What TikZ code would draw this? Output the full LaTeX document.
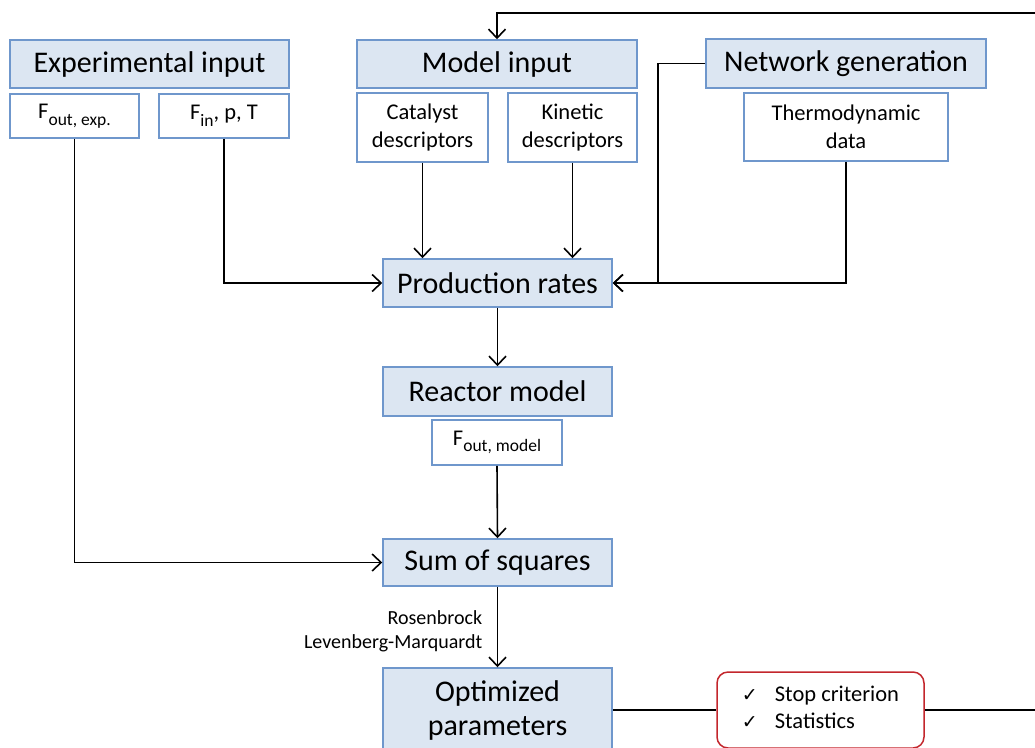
\documentclass[tikz,border=0pt]{standalone}
\usepackage{fontspec}
\setmainfont{Carlito}
\newfontfamily\symfont{DejaVu Sans}
\usetikzlibrary{arrows.meta}
\definecolor{boxfill}{HTML}{DCE6F2}
\definecolor{boxline}{HTML}{6F97CC}
\definecolor{stopline}{HTML}{C3262C}
\tikzset{
  hdr/.style={draw=boxline, fill=boxfill, line width=1.5pt, inner sep=0pt,
    align=center, font=\fontsize{30}{34}\selectfont},
  sub/.style={draw=boxline, fill=white, line width=1.5pt, inner sep=0pt,
    align=center, font=\fontsize{22.5}{28}\selectfont},
  crit/.style={draw=stopline, fill=white, line width=1.5pt, rounded corners=11pt,
    inner sep=0pt, font=\fontsize{22.5}{27}\selectfont},
  link/.style={line width=1.6pt},
  arr/.style={link, -{Straight Barb[length=9pt,width=17pt,line width=1.6pt]}},
  lbl/.style={font=\fontsize{20}{24}\selectfont, align=right, inner sep=0pt}
}
\newcommand{\flowsub}[1]{\raisebox{-0.3em}{\fontsize{17.5}{17.5}\selectfont #1}}
\begin{document}
\begin{tikzpicture}[x=1pt,y=-1pt]
  \useasboundingbox (0,0) rectangle (1035,747);
  \clip (0,0) rectangle (1035,747);

  % input groups
  \node[hdr, minimum width=279pt, minimum height=48pt] (exp) at (149.5,64) {Experimental input};
  \node[sub, minimum width=129pt, minimum height=44pt] (fexp) at (74.5,116) {F\flowsub{out, exp.}};
  \node[sub, minimum width=130pt, minimum height=44pt] (fin) at (224,116) {F\flowsub{in}, p, T};

  \node[hdr, minimum width=280pt, minimum height=48pt] (model) at (497,64) {Model input};
  \node[sub, minimum width=131pt, minimum height=69pt] (cat) at (422.5,127.5) {Catalyst\\descriptors};
  \node[sub, minimum width=129pt, minimum height=69pt] (kin) at (572.5,127.5) {Kinetic\\descriptors};

  \node[hdr, minimum width=280pt, minimum height=49pt] (net) at (846,63.5) {Network generation};
  \node[sub, minimum width=204pt, minimum height=68pt] (thermo) at (846,127) {Thermodynamic\\data};

  % main chain
  \node[hdr, minimum width=229pt, minimum height=48pt] (prod) at (497.5,283) {Production rates};
  \node[hdr, minimum width=229pt, minimum height=49pt] (reactor) at (497.5,391.5) {Reactor model};
  \node[sub, minimum width=130pt, minimum height=45pt] (fmod) at (497,442.5) {F\flowsub{out, model}};
  \node[hdr, minimum width=229pt, minimum height=47pt] (sum) at (497.5,562.5) {Sum of squares};
  \node[hdr, minimum width=229pt, minimum height=84pt] (opt) at (497.5,710) {Optimized\\parameters};

  \node[crit, minimum width=207pt, minimum height=76pt] (stop) at (820.5,710)
    {\begin{tabular}{@{}l@{\hspace{17pt}}l@{}}
       {\symfont\fontsize{19}{27}\selectfont ✓} & Stop criterion\\
       {\symfont\fontsize{19}{27}\selectfont ✓} & Statistics
     \end{tabular}};

  % loose ends at the right border
  \coordinate (loopin) at (1035,13);
  \coordinate (loopout) at (1035,710);

  % connectors
  \draw[arr] (loopin) -| (model.north);
  \draw[arr] (cat.south) -- (cat.south |- prod.north);
  \draw[arr] (kin.south) -- (kin.south |- prod.north);
  \draw[arr] (fin.south) |- (prod.west);
  \draw[arr] (thermo.south) |- (prod.east);
  \draw[arr] (net.west) -- ++(-47,0) |- (prod.east);
  \draw[arr] (prod.south) -- (reactor.north);
  \draw[arr] (fmod.south) -- (sum.north);
  \draw[arr] (fexp.south) |- (sum.west);
  \draw[arr] (sum.south) -- node[lbl, anchor=east, xshift=-14.5pt, yshift=-4pt]
    {Rosenbrock\\Levenberg-Marquardt} (opt.north);
  \draw[link] (opt.east) -- (stop.west);
  \draw[link] (stop.east) -- (loopout);
\end{tikzpicture}
\end{document}
